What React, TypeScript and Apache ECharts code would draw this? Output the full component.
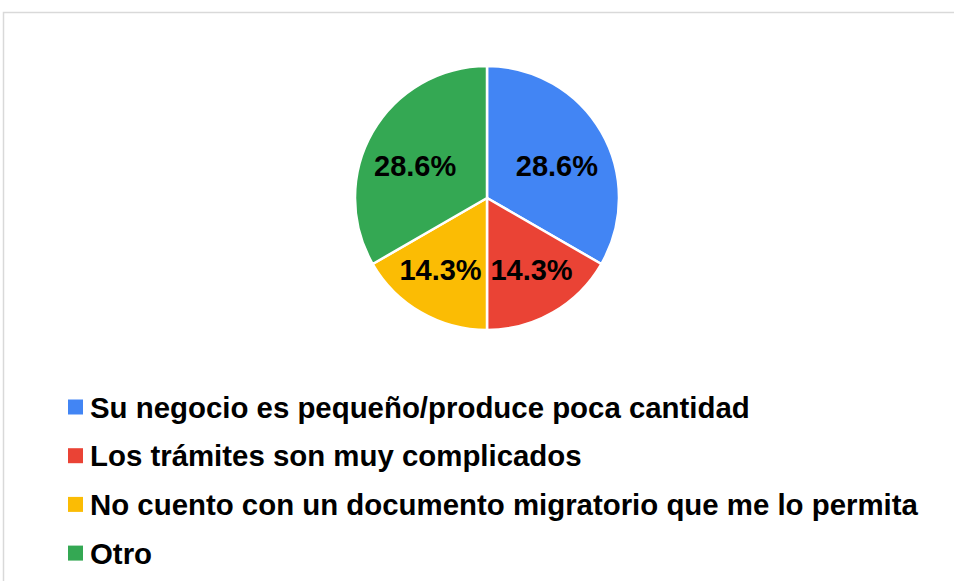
import React, { useEffect, useRef } from "react";
import * as echarts from "echarts";

const categories = [
  "Su negocio es pequeño/produce poca cantidad",
  "Los trámites son muy complicados",
  "No cuento con un documento migratorio que me lo permita",
  "Otro",
];
const percentages = [28.6, 14.3, 14.3, 28.6];
const colors = ["#4285F4", "#EA4335", "#FBBC04", "#34A853"];

const FONT = "'Liberation Sans', Arial, Helvetica, sans-serif";

export default function App() {
  const ref = useRef<HTMLDivElement>(null);
  useEffect(() => {
    if (!ref.current) return;
    const chart = echarts.init(ref.current, undefined, { renderer: "svg" });
    const labelNudge = [
      [-2, 9],
      [3, 0],
      [-5, 0],
      [0, 9],
    ];
    const data = categories.map((name, i) => ({
      name,
      value: percentages[i],
      itemStyle: { color: colors[i] },
    }));
    chart.setOption({
      animation: false,
      backgroundColor: "#ffffff",
      graphic: [
        {
          type: "rect",
          shape: { x: 3.5, y: 12.5, width: 1000, height: 700 },
          style: { fill: "none", stroke: "#d9d9d9", lineWidth: 1.5 },
          silent: true,
        },
      ],
      legend: {
        orient: "vertical",
        left: 63,
        top: 385,
        itemWidth: 15,
        itemHeight: 15,
        itemGap: 14.7,
        icon: "rect",
        selectedMode: false,
        itemStyle: { borderWidth: 0 },
        textStyle: {
          fontFamily: FONT,
          fontSize: 29.4,
          fontWeight: "bold",
          color: "#000000",
          lineHeight: 34,
          padding: [0, 0, 0, 2],
        },
        data: categories,
      },
      series: [
        {
          type: "pie",
          center: [487, 198],
          radius: [0, 132],
          startAngle: 90,
          clockwise: true,
          label: { show: false },
          labelLine: { show: false },
          itemStyle: { borderColor: "#ffffff", borderWidth: 2.5 },
          emphasis: { disabled: true },
          data,
        },
        {
          type: "pie",
          center: [487, 198],
          radius: [28, 132],
          startAngle: 90,
          clockwise: true,
          silent: true,
          legendHoverLink: false,
          itemStyle: { color: "transparent", borderWidth: 0 },
          emphasis: { disabled: true },
          label: {
            show: true,
            position: "inside",
            formatter: (p: any) => p.value.toFixed(1) + "%",
            fontFamily: FONT,
            fontSize: 29,
            fontWeight: "bold",
            color: "#000000",
          },
          labelLine: { show: false },
          data: categories.map((name, i) => ({
            name: name + " ",
            value: percentages[i],
            label: { offset: labelNudge[i] },
          })),
        },
      ],
    });
    return () => chart.dispose();
  }, []);
  return (
    <div
      ref={ref}
      style={{ position: "fixed", left: 0, top: 0, width: 954, height: 581 }}
    />
  );
}
